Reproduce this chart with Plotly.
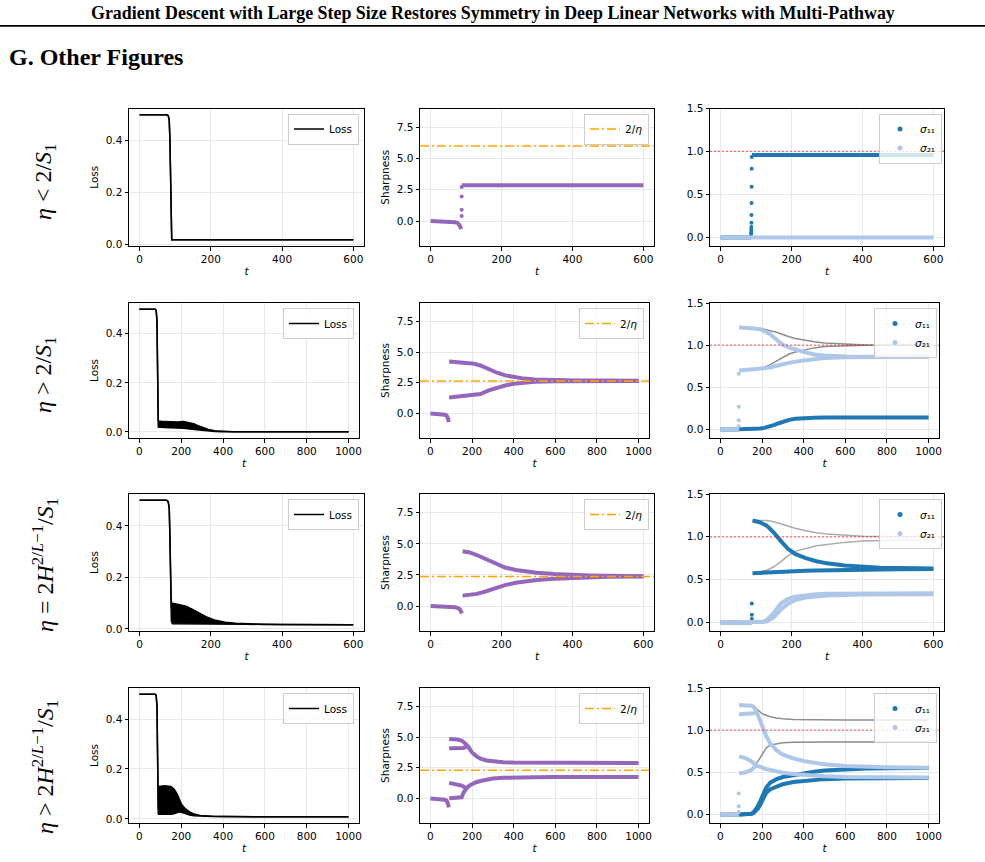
import plotly.graph_objects as go

# ---------------- data ----------------
# Row 1 : eta < 2/S1   (t up to 600)
loss1_t = [0, 75, 80, 83, 85, 86, 87, 88, 90, 600]
loss1_v = [0.5, 0.5, 0.497, 0.48, 0.40, 0.30, 0.15, 0.05, 0.018, 0.018]

sharp1_pre_t = [0, 20, 40, 60, 70, 76, 80, 83, 86]
sharp1_pre_v = [0.0, -0.01, -0.03, -0.06, -0.1, -0.15, -0.25, -0.4, -0.65]
sharp1_jump_t = [87.5, 87.5, 87.5, 87.5]
sharp1_jump_v = [0.4, 0.9, 1.96, 2.72]
sharp1_post_t = [88, 600]
sharp1_post_v = [2.86, 2.86]
eta1 = 6.0

sig1_lb_t = [0, 600]
sig1_lb_v = [0.0, 0.0]
sig1_db_pre_t = [0, 86]
sig1_db_pre_v = [0.0, 0.0]
sig1_db_jump_t = [86.0, 86.2, 86.4, 86.6, 86.8, 87.0, 87.2, 87.4, 87.6, 87.8]
sig1_db_jump_v = [0.04, 0.06, 0.09, 0.12, 0.17, 0.26, 0.40, 0.59, 0.80, 0.935]
sig1_db_post_t = [88, 600]
sig1_db_post_v = [0.96, 0.96]

# Row 2 : eta > 2/S1   (t up to 1000)
loss2_t = [0, 75, 80, 84, 86, 88, 90, 120, 150, 180, 210, 240, 260, 280, 300, 330, 360, 400, 450, 500, 1000]
loss2_hi = [0.5, 0.5, 0.495, 0.45, 0.3, 0.1, 0.045, 0.042, 0.04, 0.04, 0.042, 0.038, 0.033, 0.025, 0.018,
            0.01, 0.005, 0.002, 0.001, 0.0005, 0.0003]
loss2_lo = [0.5, 0.5, 0.495, 0.45, 0.3, 0.1, 0.02, 0.018, 0.018, 0.018, 0.015, 0.012, 0.01, 0.008, 0.006,
            0.004, 0.002, 0.001, 0.0005, 0.0003, 0.0003]

sharp2_pre_t = [0, 20, 40, 60, 70, 78, 82, 85, 88]
sharp2_pre_v = [0.0, -0.01, -0.03, -0.06, -0.1, -0.18, -0.3, -0.45, -0.7]
sharp2_t = [90, 120, 150, 170, 190, 210, 240, 280, 320, 360, 400, 450, 500, 600, 700, 800, 1000]
sharp2_up = [4.24, 4.2, 4.17, 4.14, 4.12, 4.05, 3.91, 3.6, 3.32, 3.1, 2.97, 2.84, 2.77, 2.71, 2.69, 2.68, 2.67]
sharp2_lo = [1.3, 1.35, 1.38, 1.4, 1.42, 1.47, 1.58, 1.88, 2.1, 2.28, 2.42, 2.53, 2.59, 2.63, 2.64, 2.64, 2.64]
eta2 = 2.65

sig2_t = [90, 120, 150, 190, 210, 240, 260, 280, 300, 330, 360, 400, 450, 500, 600, 700, 800, 1000]
sig2_lb_up = [1.21, 1.21, 1.2, 1.19, 1.17, 1.13, 1.085, 1.04, 1.005, 0.97, 0.945, 0.92, 0.89, 0.877, 0.865,
              0.862, 0.862, 0.862]
sig2_lb_lo = [0.70, 0.705, 0.71, 0.715, 0.72, 0.735, 0.75, 0.765, 0.775, 0.79, 0.805, 0.82, 0.838, 0.848,
              0.857, 0.86, 0.861, 0.862]
sig2_gray_up = [1.21, 1.21, 1.205, 1.2, 1.19, 1.175, 1.16, 1.145, 1.125, 1.1, 1.08, 1.06, 1.04, 1.025, 1.01,
                1.003, 1.0, 1.0]
sig2_gray_lo = [0.71, 0.712, 0.715, 0.725, 0.74, 0.77, 0.8, 0.83, 0.86, 0.895, 0.92, 0.945, 0.968, 0.983,
                0.995, 0.999, 1.0, 1.0]
sig2_db = [0.003, 0.004, 0.006, 0.012, 0.02, 0.038, 0.055, 0.075, 0.095, 0.115, 0.127, 0.136, 0.14, 0.142,
           0.142, 0.142, 0.142, 0.142]
sig2_pre_t = [0, 88]
sig2_pre_v = [0.0, 0.0]
sig2_jump_t = [88, 88, 88, 88]
sig2_jump_v = [0.66, 0.27, 0.11, 0.04]

# Row 3 : eta = 2H^{2/L-1}/S1   (t up to 600)
loss3_t = [0, 75, 80, 83, 85, 87, 89, 92, 110, 130, 150, 170, 190, 210, 240, 270, 300, 350, 400, 500, 600]
loss3_hi = [0.5, 0.5, 0.495, 0.47, 0.35, 0.15, 0.08, 0.1, 0.095, 0.088, 0.075, 0.06, 0.045, 0.035, 0.026,
            0.022, 0.02, 0.018, 0.017, 0.016, 0.016]
loss3_lo = [0.5, 0.5, 0.495, 0.47, 0.35, 0.15, 0.03, 0.02, 0.02, 0.02, 0.02, 0.02, 0.019, 0.019, 0.018,
            0.018, 0.018, 0.017, 0.017, 0.016, 0.016]

sharp3_pre_t = [0, 20, 40, 60, 70, 78, 82, 85, 88]
sharp3_pre_v = [0.0, -0.01, -0.03, -0.06, -0.1, -0.18, -0.25, -0.4, -0.6]
sharp3_t = [90, 110, 130, 150, 170, 190, 210, 240, 270, 300, 350, 400, 450, 500, 600]
sharp3_up = [4.4, 4.31, 4.1, 3.85, 3.56, 3.3, 3.1, 2.9, 2.78, 2.68, 2.58, 2.5, 2.46, 2.43, 2.4]
sharp3_lo = [0.84, 0.89, 0.98, 1.13, 1.33, 1.52, 1.68, 1.88, 2.02, 2.1, 2.2, 2.27, 2.32, 2.35, 2.37]
eta3 = 2.38

sig3_t = [90, 110, 130, 150, 170, 190, 210, 240, 270, 300, 350, 400, 450, 500, 600]
sig3_db_up = [1.19, 1.17, 1.13, 1.05, 0.95, 0.86, 0.8, 0.75, 0.715, 0.69, 0.665, 0.648, 0.64, 0.635, 0.63]
sig3_db_lo = [0.575, 0.58, 0.585, 0.59, 0.595, 0.598, 0.6, 0.603, 0.607, 0.61, 0.614, 0.617, 0.62, 0.622, 0.625]
sig3_gray_up = [1.19, 1.19, 1.19, 1.175, 1.15, 1.12, 1.1, 1.07, 1.047, 1.033, 1.018, 1.008, 1.004, 1.002, 1.0]
sig3_gray_lo = [0.58, 0.59, 0.61, 0.65, 0.71, 0.78, 0.83, 0.865, 0.895, 0.91, 0.935, 0.95, 0.956, 0.961, 0.968]
sig3_lb_t = [0, 90, 110, 120, 130, 150, 170, 190, 210, 240, 270, 300, 400, 600]
sig3_lb_a = [0, 0, 0.003, 0.008, 0.027, 0.11, 0.22, 0.275, 0.3, 0.32, 0.33, 0.335, 0.34, 0.34]
sig3_lb_b = [0, 0, 0.001, 0.003, 0.01, 0.06, 0.15, 0.22, 0.26, 0.29, 0.305, 0.315, 0.325, 0.33]
sig3_pre_t = [0, 88]
sig3_pre_v = [0.0, 0.0]
sig3_jump_t = [88, 88, 88]
sig3_jump_v = [0.22, 0.09, 0.04]

# Row 4 : eta > 2H^{2/L-1}/S1   (t up to 1000)
loss4_t = [0, 75, 80, 84, 86, 88, 90, 93, 95, 120, 150, 165, 180, 190, 200, 220, 240, 260, 280, 300, 350,
           400, 600, 1000]
loss4_hi = [0.5, 0.5, 0.495, 0.45, 0.3, 0.1, 0.04, 0.12, 0.13, 0.133, 0.13, 0.12, 0.1, 0.08, 0.06, 0.04,
            0.028, 0.02, 0.015, 0.012, 0.01, 0.009, 0.008, 0.008]
loss4_lo = [0.5, 0.5, 0.495, 0.45, 0.3, 0.1, 0.02, 0.018, 0.018, 0.016, 0.018, 0.02, 0.025, 0.028, 0.026,
            0.02, 0.015, 0.012, 0.011, 0.01, 0.009, 0.009, 0.008, 0.008]

sharp4_pre_t = [0, 20, 40, 60, 70, 78, 82, 85, 88]
sharp4_pre_v = [0.0, -0.01, -0.03, -0.06, -0.1, -0.18, -0.3, -0.45, -0.72]
sharp4_t = [90, 110, 130, 150, 160, 170, 180, 190, 200, 220, 240, 270, 300, 350, 400, 500, 600, 800, 1000]
sharp4_b1 = [4.85, 4.85, 4.8, 4.72, 4.6, 4.45, 4.25, 3.95, 3.75, 3.45, 3.25, 3.1, 3.02, 2.95, 2.92, 2.9,
             2.89, 2.88, 2.88]
sharp4_b4 = [0.02, 0.02, 0.03, 0.1, 0.5, 0.8, 0.95, 1.08, 1.17, 1.32, 1.42, 1.55, 1.62, 1.68, 1.71, 1.73,
             1.74, 1.75, 1.75]
sharp4_b2_t = [90, 110, 130, 150, 160, 170, 180]
sharp4_b2_v = [4.1, 4.1, 4.1, 4.1, 4.12, 4.2, 4.25]
sharp4_b3_t = [90, 110, 130, 150, 160, 170]
sharp4_b3_v = [1.27, 1.22, 1.15, 1.05, 0.95, 0.85]
eta4 = 2.3

sig4_t = [90, 120, 150, 160, 170, 180, 190, 200, 210, 220, 240, 270, 300, 350, 400, 450, 500, 600, 700, 800, 1000]
sig4_lb1 = [1.3, 1.3, 1.29, 1.275, 1.24, 1.18, 1.12, 1.04, 0.98, 0.93, 0.84, 0.76, 0.71, 0.665, 0.635, 0.615,
            0.595, 0.575, 0.565, 0.56, 0.556]
sig4_lb4 = [0.49, 0.5, 0.53, 0.55, 0.58, 0.575, 0.565, 0.555, 0.545, 0.54, 0.53, 0.51, 0.495, 0.48, 0.47,
            0.463, 0.455, 0.446, 0.442, 0.44, 0.438]
sig4_gray_up = [1.3, 1.3, 1.295, 1.285, 1.26, 1.235, 1.21, 1.195, 1.185, 1.175, 1.16, 1.145, 1.135, 1.128,
                1.125, 1.123, 1.122, 1.12, 1.12, 1.12, 1.12]
sig4_gray_lo = [0.69, 0.67, 0.63, 0.61, 0.6, 0.63, 0.67, 0.72, 0.76, 0.79, 0.825, 0.84, 0.85, 0.857, 0.86,
                0.86, 0.86, 0.86, 0.86, 0.86, 0.86]
sig4_db_up = [0.0, 0.003, 0.01, 0.03, 0.06, 0.1, 0.15, 0.2, 0.26, 0.32, 0.38, 0.42, 0.445, 0.47, 0.49,
              0.508, 0.522, 0.54, 0.547, 0.55, 0.552]
sig4_db_lo = [0.0, 0.003, 0.01, 0.02, 0.04, 0.07, 0.11, 0.16, 0.21, 0.26, 0.3, 0.335, 0.36, 0.385, 0.4,
              0.41, 0.42, 0.428, 0.43, 0.432, 0.433]
sig4_lb2_t = [90, 120, 150, 160, 170, 175]
sig4_lb2_v = [1.19, 1.19, 1.195, 1.2, 1.21, 1.21]
sig4_lb3_t = [90, 120, 150, 160, 170]
sig4_lb3_v = [0.69, 0.67, 0.63, 0.61, 0.585]
sig4_pre_t = [0, 88]
sig4_pre_v = [0.0, 0.0]
sig4_jump_t = [88, 88, 88]
sig4_jump_v = [0.25, 0.1, 0.03]

t_max = [600, 1000, 600, 1000]
row_labels = [
    "<i>η</i> < 2/<i>S</i><sub>1</sub>",
    "<i>η</i> > 2/<i>S</i><sub>1</sub>",
    "<i>η</i> = 2<i>H</i><sup>2/<i>L</i>−1</sup>/<i>S</i><sub>1</sub>",
    "<i>η</i> > 2<i>H</i><sup>2/<i>L</i>−1</sup>/<i>S</i><sub>1</sub>",
]

# ---------------- styling / layout ----------------
W, H = 985, 862
PURPLE = "#9467bd"
DBLUE = "#1f77b4"
LBLUE = "#aec7e8"
ORANGE = "#FFA500"
GRAY = ["#8c8c8c", "#8c8c8c", "#ababab", "#8c8c8c"]
BAND = 4
FS = 10.5
TICKFONT = dict(family="DejaVu Sans", size=FS, color="black")
LABELFONT = dict(family="DejaVu Sans", size=FS, color="black")
TFONT = dict(family="DejaVu Sans", size=FS, color="black", style="italic")

rows_y = [(108.5, 246), (303, 438), (494, 631), (688, 823)]
cols_600 = [(129, 364), (420, 654), (710, 944)]
cols_1000 = [(129, 359), (420, 649), (710, 939)]

fig = go.Figure()
layout = dict(width=W, height=H, margin=dict(l=0, r=0, t=0, b=0), template="none",
              plot_bgcolor="white", paper_bgcolor="white", showlegend=True)


def sid(n):
    return "" if n == 1 else str(n)


def add(n, x, y, **kw):
    kw.setdefault("showlegend", False)
    fig.add_trace(go.Scatter(x=x, y=y, xaxis="x" + sid(n), yaxis="y" + sid(n),
                             legend="legend" + sid(n), hoverinfo="skip", **kw))


def band(n, x, y, color):
    add(n, x, y, mode="lines", line=dict(color=color, width=BAND))


def dots(n, x, y, color):
    add(n, x, y, mode="markers", marker=dict(color=color, size=4))


def loss_panel(n, t, hi, lo):
    add(n, t, hi, mode="lines", line=dict(color="black", width=1.5), name="Loss", showlegend=True)
    add(n, t, lo, mode="lines", line=dict(color="black", width=1.5), fill="tonexty", fillcolor="black")


def hline(n, tm, yv, color, dash, width, name=None):
    add(n, [-0.05 * tm, 1.05 * tm], [yv, yv], mode="lines",
        line=dict(color=color, dash=dash, width=width),
        name=name, showlegend=name is not None)


loss_sets = [(loss1_t, loss1_v, loss1_v), (loss2_t, loss2_hi, loss2_lo),
             (loss3_t, loss3_hi, loss3_lo), (loss4_t, loss4_hi, loss4_lo)]
etas = [eta1, eta2, eta3, eta4]

for r in range(4):
    tm = t_max[r]
    cols = cols_600 if tm == 600 else cols_1000
    top, bot = rows_y[r]
    for c in range(3):
        n = r * 3 + c + 1
        x0, x1 = cols[c]
        xa = dict(domain=[x0 / W, x1 / W], range=[-0.05 * tm, 1.05 * tm], anchor="y" + sid(n),
                  tickvals=list(range(0, tm + 1, 200)), showline=True, mirror=True,
                  linecolor="black", linewidth=1, ticks="outside", ticklen=3.5, tickcolor="black",
                  showgrid=True, gridcolor="#e8e8e8", gridwidth=1, zeroline=False,
                  tickfont=TICKFONT, automargin=False,
                  title=dict(text="t", font=TFONT, standoff=3))
        ya = dict(domain=[1 - bot / H, 1 - top / H], anchor="x" + sid(n), showline=True, mirror=True,
                  linecolor="black", linewidth=1, ticks="outside", ticklen=3.5, tickcolor="black",
                  showgrid=True, gridcolor="#e8e8e8", gridwidth=1, zeroline=False,
                  tickfont=TICKFONT, automargin=False, tickformat=".1f")
        if c == 0:
            t_, hi_, lo_ = loss_sets[r]
            vals = hi_ + lo_
            pad = 0.05 * (max(vals) - min(vals))
            ya.update(range=[min(vals) - pad, max(vals) + pad], tickvals=[0.0, 0.2, 0.4],
                      title=dict(text="Loss", font=LABELFONT, standoff=5))
        elif c == 1:
            ya.update(range=[-2, 9], tickvals=[0.0, 2.5, 5.0, 7.5],
                      title=dict(text="Sharpness", font=LABELFONT, standoff=5))
        else:
            ya.update(range=[-0.1, 1.5], tickvals=[0.0, 0.5, 1.0, 1.5])
        layout["xaxis" + sid(n)] = xa
        layout["yaxis" + sid(n)] = ya
        inset = 5 if c < 2 else 2
        layout["legend" + sid(n)] = dict(
            x=(x1 - inset) / W, y=1 - (top + 5) / H, xanchor="right", yanchor="top",
            bgcolor="rgba(255,255,255,0.8)", bordercolor="#cccccc", borderwidth=1,
            font=dict(family="DejaVu Sans", size=FS, color="black"), itemwidth=30, tracegroupgap=0)

# ---- column 1 : loss
for r in range(4):
    t_, hi_, lo_ = loss_sets[r]
    loss_panel(r * 3 + 1, t_, hi_, lo_)

# ---- column 2 : sharpness
band(2, sharp1_pre_t, sharp1_pre_v, PURPLE)
dots(2, sharp1_jump_t, sharp1_jump_v, PURPLE)
band(2, sharp1_post_t, sharp1_post_v, PURPLE)

band(5, sharp2_pre_t, sharp2_pre_v, PURPLE)
band(5, sharp2_t, sharp2_up, PURPLE)
band(5, sharp2_t, sharp2_lo, PURPLE)

band(8, sharp3_pre_t, sharp3_pre_v, PURPLE)
band(8, sharp3_t, sharp3_up, PURPLE)
band(8, sharp3_t, sharp3_lo, PURPLE)

band(11, sharp4_pre_t, sharp4_pre_v, PURPLE)
band(11, sharp4_t, sharp4_b1, PURPLE)
band(11, sharp4_b2_t, sharp4_b2_v, PURPLE)
band(11, sharp4_b3_t, sharp4_b3_v, PURPLE)
band(11, sharp4_t, sharp4_b4, PURPLE)

for r in range(4):
    hline(r * 3 + 2, t_max[r], etas[r], ORANGE, "9px,3px,2px,3px", 1.5, name="2/<i>η</i>")

# ---- column 3 : singular values
# row 1
band(3, sig1_db_pre_t, sig1_db_pre_v, DBLUE)
dots(3, sig1_db_jump_t, sig1_db_jump_v, DBLUE)
band(3, sig1_db_post_t, sig1_db_post_v, DBLUE)
band(3, sig1_lb_t, sig1_lb_v, LBLUE)
# row 2
add(6, sig2_t, sig2_gray_up, mode="lines", line=dict(color=GRAY[1], width=1.5))
add(6, sig2_t, sig2_gray_lo, mode="lines", line=dict(color=GRAY[1], width=1.5))
band(6, sig2_pre_t, sig2_pre_v, DBLUE)
band(6, sig2_t, sig2_db, DBLUE)
band(6, sig2_pre_t, sig2_pre_v, LBLUE)
dots(6, sig2_jump_t, sig2_jump_v, LBLUE)
band(6, sig2_t, sig2_lb_up, LBLUE)
band(6, sig2_t, sig2_lb_lo, LBLUE)
# row 3
add(9, sig3_t, sig3_gray_up, mode="lines", line=dict(color=GRAY[2], width=1.5))
add(9, sig3_t, sig3_gray_lo, mode="lines", line=dict(color=GRAY[2], width=1.5))
band(9, sig3_pre_t, sig3_pre_v, DBLUE)
dots(9, sig3_jump_t, sig3_jump_v, DBLUE)
band(9, sig3_t, sig3_db_up, DBLUE)
band(9, sig3_t, sig3_db_lo, DBLUE)
band(9, sig3_lb_t, sig3_lb_a, LBLUE)
band(9, sig3_lb_t, sig3_lb_b, LBLUE)
# row 4
add(12, sig4_t, sig4_gray_up, mode="lines", line=dict(color=GRAY[3], width=1.5))
add(12, sig4_t, sig4_gray_lo, mode="lines", line=dict(color=GRAY[3], width=1.5))
band(12, sig4_pre_t, sig4_pre_v, DBLUE)
band(12, sig4_t, sig4_db_up, DBLUE)
band(12, sig4_t, sig4_db_lo, DBLUE)
band(12, sig4_pre_t, sig4_pre_v, LBLUE)
dots(12, sig4_jump_t, sig4_jump_v, LBLUE)
band(12, sig4_t, sig4_lb1, LBLUE)
band(12, sig4_lb2_t, sig4_lb2_v, LBLUE)
band(12, sig4_lb3_t, sig4_lb3_v, LBLUE)
band(12, sig4_t, sig4_lb4, LBLUE)

for r in range(4):
    n = r * 3 + 3
    hline(n, t_max[r], 1.0, "rgba(255,0,0,0.55)", "2px,2px", 1.3)
    add(n, [None], [None], mode="markers", marker=dict(color=DBLUE, size=5),
        name="<i>σ</i>₁₁", showlegend=True)
    add(n, [None], [None], mode="markers", marker=dict(color=LBLUE, size=5),
        name="<i>σ</i>₂₁", showlegend=True)

# ---- page text
annotations = [
    dict(text="<b>Gradient Descent with Large Step Size Restores Symmetry in Deep Linear Networks with Multi-Pathway</b>",
         x=0.5, y=1 - 13 / H, xref="paper", yref="paper", showarrow=False, xanchor="center", yanchor="middle",
         font=dict(family="Liberation Serif", size=17.9, color="black")),
    dict(text="<b>G. Other Figures</b>", x=7 / W, y=1 - 57 / H, xref="paper", yref="paper", showarrow=False,
         xanchor="left", yanchor="middle", font=dict(family="Liberation Serif", size=24, color="black")),
]
row_centers = [182, 375, 565, 767]
for lbl, yc in zip(row_labels, row_centers):
    annotations.append(dict(text=lbl, x=45 / W, y=1 - yc / H, xref="paper", yref="paper", showarrow=False,
                            textangle=-90, xanchor="center", yanchor="middle",
                            font=dict(family="Liberation Serif", size=24, color="black")))
layout["annotations"] = annotations
layout["shapes"] = [dict(type="line", xref="paper", yref="paper", x0=0, x1=1, y0=1 - 25.8 / H, y1=1 - 25.8 / H,
                         line=dict(color="black", width=1.8))]

fig.update_layout(**layout)
fig.write_html("out.html")
